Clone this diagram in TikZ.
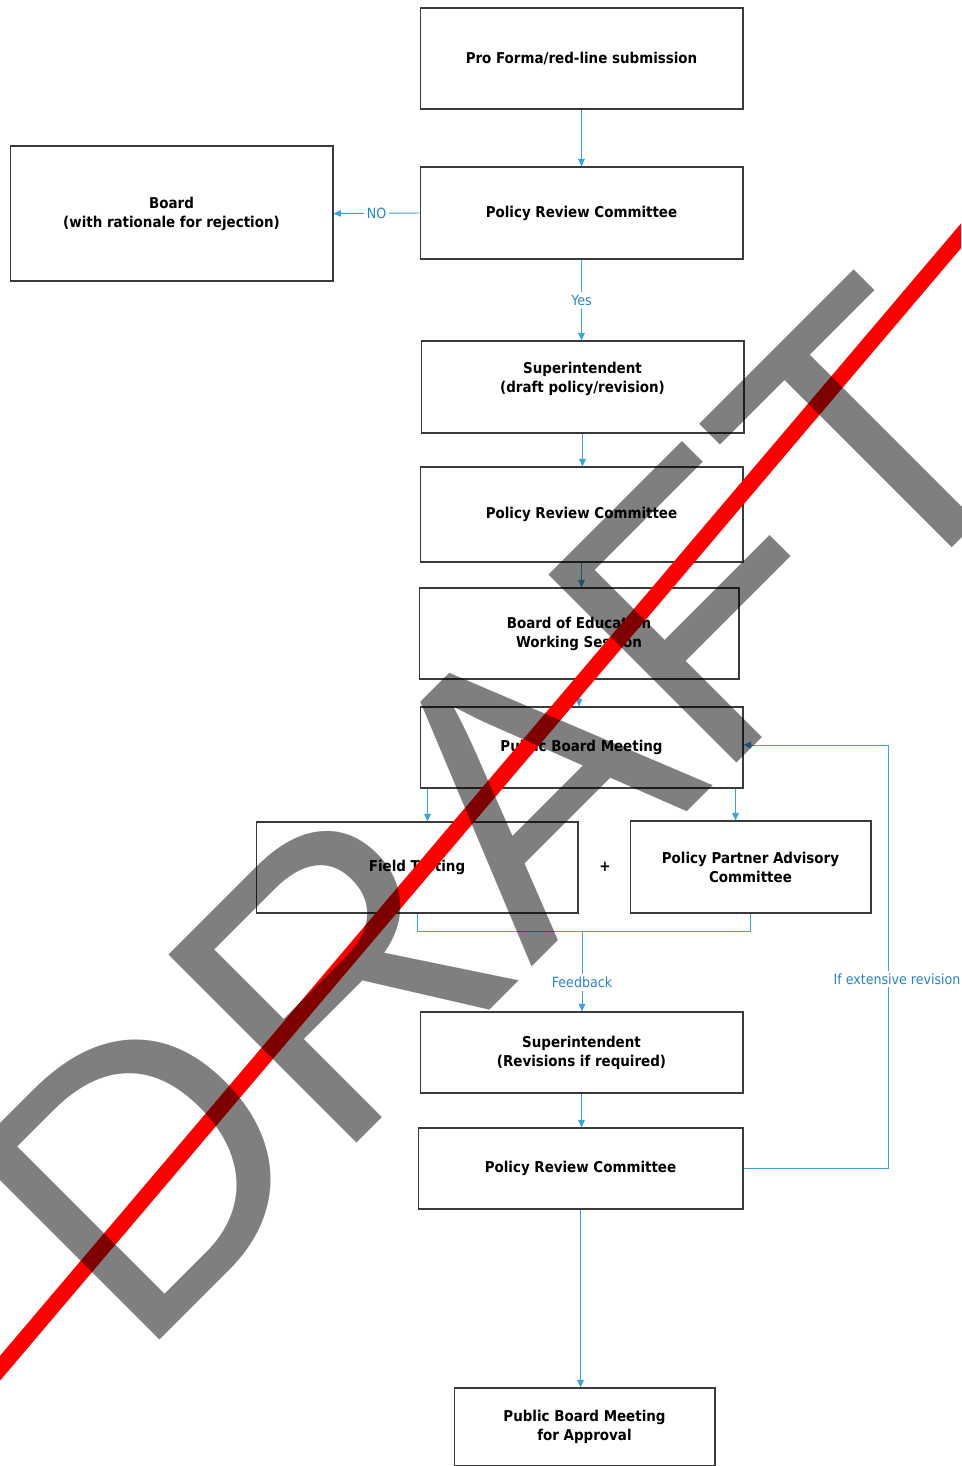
\documentclass[tikz,border=0pt]{standalone}
\usepackage{fontspec}
\setmainfont{DejaVu Sans Condensed}
\newfontfamily\draftfont{Liberation Sans}
\usepackage{tikz}
\usetikzlibrary{arrows.meta,calc,positioning}
\definecolor{FlowBlue}{HTML}{3BA3DC}
\definecolor{TagBlue}{HTML}{2A84C0}
\definecolor{BoxEdge}{HTML}{3A3A3A}
\definecolor{DraftRed}{HTML}{FF0000}

\begin{document}
\begin{tikzpicture}[x=.02cm,y=-.02cm,
  stage/.style={draw=BoxEdge,line width=.6pt,align=center,inner sep=0pt,font=\bfseries\fontsize{8.5}{10.8}\selectfont},
  flow/.style={FlowBlue,line width=.55pt,-{Triangle[length=1.5mm,width=1.3mm]}},
  link/.style={FlowBlue,line width=.55pt},
  tag/.style={fill=white,inner sep=1.5pt,text=TagBlue,font=\fontsize{8}{9.6}\selectfont}]
  \useasboundingbox (0,0) rectangle (961,1466);
  \clip (0,0) rectangle (961,1466);
  % stages
  \node[stage,minimum width=6.46cm,minimum height=2.02cm] (sub) at (581.5,58.5) {Pro Forma/red-line submission};
  \node[stage,minimum width=6.46cm,minimum height=1.84cm] (prcA) at (581.5,213) {Policy Review Committee};
  \node[stage,minimum width=6.46cm,minimum height=2.7cm] (reject) at (171.5,213.5) {Board\\(with rationale for rejection)};
  \node[stage,minimum width=6.46cm,minimum height=1.84cm,text depth=10.5pt] (supA) at (582.5,387) {Superintendent\\(draft policy/revision)};
  \node[stage,minimum width=6.46cm,minimum height=1.9cm] (prcB) at (581.5,514.5) {Policy Review Committee};
  \node[stage,minimum width=6.4cm,minimum height=1.82cm] (work) at (579,633.5) {Board of Education\\Working Session};
  \node[stage,minimum width=6.46cm,minimum height=1.62cm] (pub) at (581.5,747.5) {Public Board Meeting};
  \node[stage,minimum width=6.44cm,minimum height=1.82cm] (field) at (417,867.5) {Field Testing};
  \node[stage,minimum width=4.82cm,minimum height=1.84cm] (ppac) at (750.5,867) {Policy Partner Advisory\\Committee};
  \node[stage,draw=none] (plus) at (605,867) {+};
  \node[stage,minimum width=6.46cm,minimum height=1.62cm] (supB) at (581.5,1052.5) {Superintendent\\(Revisions if required)};
  \node[stage,minimum width=6.5cm,minimum height=1.62cm] (prcC) at (580.5,1168.5) {Policy Review Committee};
  \node[stage,minimum width=5.22cm,minimum height=1.56cm] (appr) at (584.5,1427) {Public Board Meeting\\for Approval};
  % connectors
  \draw[flow] (sub.south) -- (sub.south |- prcA.north);
  \draw[flow] (prcA.west) -- (reject.east) node[tag,midway] (tagNo) {NO};
  \draw[flow] (prcA.south) -- (prcA.south |- supA.north) node[tag,midway] (tagYes) {Yes};
  \draw[flow] (supA.south) -- (supA.south |- prcB.north);
  \draw[flow] (prcB.south) -- (prcB.south |- work.north);
  \draw[flow] (work.south) -- (work.south |- pub.north);
  \draw[flow] ([xshift=.16cm]pub.south west) -- ([xshift=.16cm]pub.south west |- field.north);
  \draw[flow] ([xshift=-.16cm]pub.south east) -- ([xshift=-.16cm]pub.south east |- ppac.north);
  \coordinate (fb) at (582,931);
  \draw[link] (field.south) |- (fb) -| (ppac.south);
  \draw[flow] (fb) -- (fb |- supB.north) node[tag,pos=.64] (tagFb) {Feedback};
  \draw[flow] (supB.south) -- (supB.south |- prcC.north);
  \draw[flow] (prcC.south) -- (prcC.south |- appr.north);
  \coordinate (bend) at (888,745);
  \draw[flow] (prcC.east) -| (bend) -- (bend -| pub.east);
  \node[tag] (tagRev) at (897,979) {If extensive revision};
  % watermark
  \draw[DraftRed,line width=.32cm] (-10,1380) -- (971,224);
  \node[rotate=45,inner sep=0pt,text=black,text opacity=.5,font=\draftfont\fontsize{220}{220}\selectfont] (draftmark) at (498.5,813) {DRAFT};
\end{tikzpicture}
\end{document}
